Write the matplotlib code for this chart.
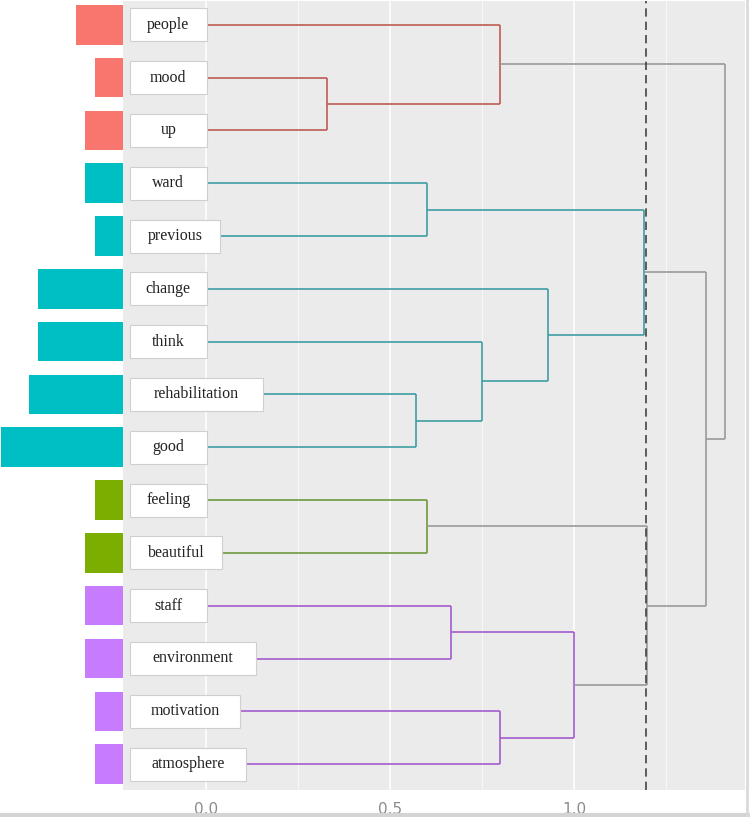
import matplotlib
matplotlib.use("Agg")
import matplotlib.pyplot as plt
from matplotlib.lines import Line2D
from matplotlib.patches import Rectangle

# leaves from top to bottom, with word frequency and cluster
words = ["people", "mood", "up", "ward", "previous", "change", "think",
         "rehabilitation", "good", "feeling", "beautiful", "staff",
         "environment", "motivation", "atmosphere"]
counts = [5, 3, 4, 4, 3, 9, 9, 10, 13, 3, 4, 4, 4, 3, 3]
clusters = [0, 0, 0, 1, 1, 1, 1, 1, 1, 2, 2, 3, 3, 3, 3]

# merges: (left node, right node, height, cluster or None); new nodes numbered from 15
merges = [
    (1, 2, 0.33, 0),
    (0, 15, 0.80, 0),
    (3, 4, 0.60, 1),
    (7, 8, 0.57, 1),
    (6, 18, 0.75, 1),
    (5, 19, 0.93, 1),
    (17, 20, 1.19, 1),
    (9, 10, 0.60, 2),
    (11, 12, 0.665, 3),
    (13, 14, 0.80, 3),
    (23, 24, 1.00, 3),
    (22, 25, 1.198, None),
    (21, 26, 1.36, None),
    (16, 27, 1.41, None),
]
cut_height = 1.195

bar_colors = ["#F8766D", "#00BFC4", "#7CAE00", "#C77CFF"]
line_colors = ["#BF5B55", "#3E9DA3", "#6E9A3E", "#A35BD0"]
gray_line = "#9A9A9A"

W, H = 750, 817
fig = plt.figure(figsize=(W / 100, H / 100), dpi=100)
ax = fig.add_axes([123 / W, 27 / H, 622 / W, 789 / H])
ax_bar = fig.add_axes([0, 27 / H, 123 / W, 789 / H])

n = len(words)
ylim = (n - 1 + 0.49, -0.45)

# frequency bars on the left
ax_bar.barh(range(n), counts, height=0.75,
            color=[bar_colors[c] for c in clusters])
ax_bar.set_xlim(13.1, 0)
ax_bar.set_ylim(*ylim)
ax_bar.axis("off")

# panel styling
ax.set_facecolor("#EBEBEB")
ax.set_xlim(-0.2255, 1.4647)
ax.set_ylim(*ylim)
for s in ax.spines.values():
    s.set_visible(False)
ax.set_xticks([0.0, 0.5, 1.0])
ax.set_xticklabels(["0.0", "0.5", "1.0"])
ax.set_xticks([0.25, 0.75, 1.25], minor=True)
ax.set_yticks([])
ax.tick_params(axis="x", which="both", length=0, pad=9, labelsize=11,
               labelcolor="#8C8C8C")
ax.grid(axis="x", which="major", color="white", lw=1.1)
ax.grid(axis="x", which="minor", color="white", lw=0.5)
ax.set_axisbelow(True)

# dendrogram segments
ys = list(range(n))
hs = [0.0] * n
for a, b, h, cl in merges:
    col = line_colors[cl] if cl is not None else gray_line
    ax.plot([h, h], [ys[a], ys[b]], color=col, lw=1.2, solid_capstyle="butt")
    for c in (a, b):
        ax.plot([hs[c], h], [ys[c], ys[c]], color=col, lw=1.2,
                solid_capstyle="butt")
    ys.append((ys[a] + ys[b]) / 2)
    hs.append(h)

ax.axvline(cut_height, color="#444444", lw=1.2, ls=(0, (5, 3)), zorder=4)

# word labels in white boxes
renderer = fig.canvas.get_renderer()
px_unit = ax.transData.transform((1, 0))[0] - ax.transData.transform((0, 0))[0]
box_left = -0.207
box_h = 0.625
for i, w in enumerate(words):
    t = ax.text(0, i, w, ha="center", va="center", fontsize=11.5,
                family="Liberation Serif", color="#222222", zorder=6)
    tw = t.get_window_extent(renderer).width
    bw = max(77, 1.42 * tw + 12) / px_unit
    t.set_x(box_left + bw / 2)
    ax.add_patch(Rectangle((box_left, i - box_h / 2), bw, box_h,
                           facecolor="white", edgecolor="#CFCFCF", lw=0.8,
                           zorder=5))

# screenshot frame
fig.add_artist(Line2D([0, 1], [2 / H, 2 / H], color="#D4D4D4", lw=3))
fig.add_artist(Line2D([747 / W, 747 / W], [0, 1], color="#DADADA", lw=2))

fig.savefig("out.png", dpi=100)
